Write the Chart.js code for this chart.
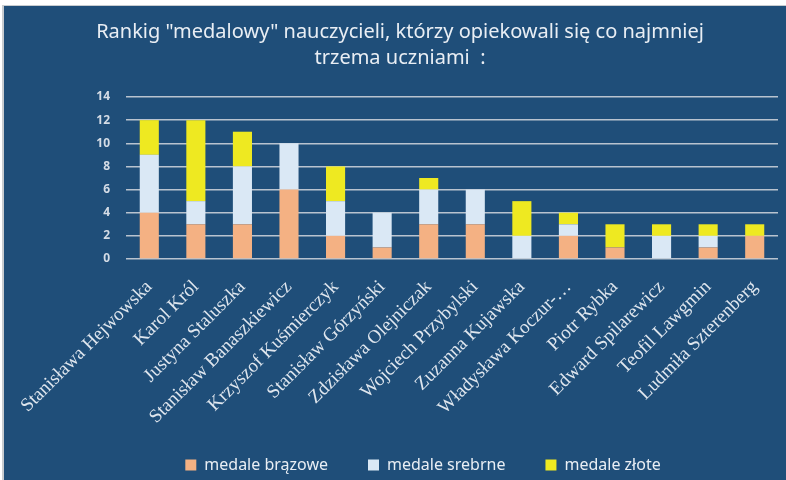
<!DOCTYPE html>
<html lang="pl">
<head>
<meta charset="utf-8">
<title>Rankig medalowy nauczycieli</title>
<script src="https://cdn.jsdelivr.net/npm/chart.js@4"></script>
<style>
  html, body { margin: 0; padding: 0; background: #ffffff; }
  #wrap { width: 786px; height: 480px; }
</style>
</head>
<body>
<div id="wrap"><canvas id="chart_medale" width="786" height="480"></canvas></div>
<script>
// nauczyciele (oś X)
const teachers = [
    'Stanisława Hejwowska',
    'Karol Król',
    'Justyna Staluszka',
    'Stanisław Banaszkiewicz',
    'Krzyszof Kuśmierczyk',
    'Stanisław Górzyński',
    'Zdzisława Olejniczak',
    'Wojciech Przybylski',
    'Zuzanna Kujawska',
    'Władysława Koczur-…',
    'Piotr Rybka',
    'Edward Spilarewicz',
    'Teofil Lawgmin',
    'Ludmiła Szterenberg'
];

// liczba medali
const bronze = [4, 3, 3, 6, 2, 1, 3, 3, 0, 2, 1, 0, 1, 2];
const silver = [5, 2, 5, 4, 3, 3, 3, 3, 2, 1, 0, 2, 1, 0];
const gold   = [3, 7, 3, 0, 3, 0, 1, 0, 3, 1, 2, 1, 1, 1];

const yTicks = [0, 2, 4, 6, 8, 10, 12, 14];

const BG = '#1f4e79';
const TEXT = '#e9eef4';

// tło z białą ramką u góry i z lewej
const background = {
    id: 'background',
    beforeDraw(chart) {
        const c = chart.ctx;
        c.save();
        c.fillStyle = '#ffffff';
        c.fillRect(0, 0, chart.width, chart.height);
        c.fillStyle = '#c8ccd0';
        c.fillRect(2, 5, 2, chart.height - 5);
        c.fillRect(2, 5, chart.width - 2, 1);
        c.fillStyle = BG;
        c.fillRect(4, 6, chart.width - 4, chart.height - 6);
        c.restore();
    }
};

// legenda lekko przesunięta w prawo
const legendShift = {
    id: 'legendShift',
    beforeDraw(chart) {
        if (chart.legend) {
            chart.legend.left += 23;
            chart.legend.right += 23;
        }
    }
};

const ctx = document.getElementById('chart_medale').getContext('2d');
const chart = new Chart(ctx, {
    type: 'bar',
    data: {
        labels: teachers,
        datasets: [
            { label: 'medale brązowe', data: bronze, backgroundColor: '#f4b183' },
            { label: 'medale srebrne', data: silver, backgroundColor: '#dae8f5' },
            { label: 'medale złote',   data: gold,   backgroundColor: '#eee921' }
        ]
    },
    options: {
        responsive: false,
        animation: false,
        layout: { padding: { top: 6, right: 8, left: 22, bottom: -3 } },
        datasets: {
            bar: { categoryPercentage: 1, barPercentage: 0.41, borderWidth: 0 }
        },
        plugins: {
            title: {
                display: true,
                text: ['Rankig "medalowy" nauczycieli, którzy opiekowali się co najmniej', 'trzema uczniami  :'],
                color: TEXT,
                font: { family: 'Noto Sans', size: 20, weight: 'normal', lineHeight: 1.3 },
                padding: { top: 13, bottom: 26 }
            },
            legend: {
                position: 'bottom',
                labels: {
                    color: TEXT,
                    boxWidth: 11,
                    boxHeight: 11,
                    padding: 40,
                    font: { family: 'Noto Sans', size: 16 }
                }
            },
            tooltip: { enabled: false }
        },
        scales: {
            x: {
                stacked: true,
                grid: { display: false },
                border: { display: false },
                ticks: {
                    color: '#dfe6ee',
                    autoSkip: false,
                    minRotation: 45,
                    maxRotation: 45,
                    padding: 9,
                    font: { family: 'Liberation Serif', size: 19 }
                },
                afterFit(scale) {
                    scale.height = 158;
                    // długie nazwiska nie są przycinane na dole osi
                    scale._computeLabelArea = () => undefined;
                }
            },
            y: {
                stacked: true,
                min: 0,
                max: 14,
                afterBuildTicks(scale) { scale.ticks = yTicks.map(v => ({ value: v })); },
                grid: { color: '#b9c3cf', lineWidth: 1.5, drawTicks: false },
                border: { display: false },
                ticks: {
                    color: '#d4dce6',
                    padding: 16,
                    font: { family: 'Noto Sans', size: 12, weight: 'bold' }
                },
                afterFit(scale) { scale.width = 104; }
            }
        }
    },
    plugins: [background, legendShift]
});
</script>
</body>
</html>
